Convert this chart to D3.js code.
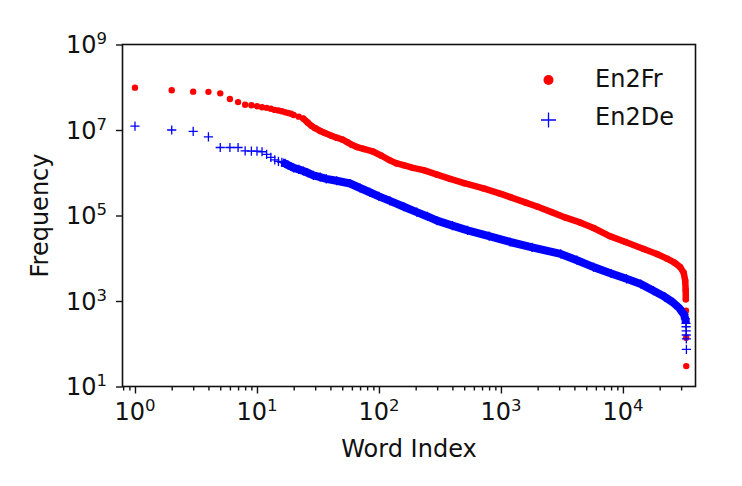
<!DOCTYPE html>
<html>
<head>
<meta charset="utf-8">
<script src="https://cdn.jsdelivr.net/npm/d3@7"></script>
<style>
  body { margin: 0; background: #fff; }
  svg text { font-family: "DejaVu Sans", sans-serif; fill: #111; }
</style>
</head>
<body>
<div id="chart"></div>
<script>
// word index / frequency (En2Fr, red dots)
const frIndex = [1, 2, 3, 4, 5, 6, 7, 8, 9, 10, 11, 12, 13, 14, 15, 16, 17, 18, 19, 20,
  22, 24, 26, 28, 30, 33, 36, 40, 45, 50, 55, 60, 66, 75, 90, 105, 123, 140, 159, 190,
  232, 300, 383, 500, 720, 1000, 1190, 1600, 2000, 2600, 3400, 4500, 5750, 7800, 10500,
  14800, 19000, 23000, 26500, 29500, 31500, 32400, 32700, 32800, 32900, 33000, 33050];
const frFreq = [9.8e7, 8.5e7, 7.9e7, 7.8e7, 7.2e7, 5.3e7, 4.5e7, 3.9e7, 3.8e7, 3.6e7,
  3.4e7, 3.3e7, 3.15e7, 2.95e7, 2.85e7, 2.75e7, 2.6e7, 2.5e7, 2.4e7, 2.25e7,
  2.05e7, 1.85e7, 1.5e7, 1.25e7, 1.1e7, 9.5e6, 8.5e6, 7.5e6, 6.6e6, 6.0e6, 5.2e6, 4.5e6,
  4.0e6, 3.6e6, 3.1e6, 2.5e6, 1.95e6, 1.65e6, 1.5e6, 1.3e6,
  1.15e6, 9.0e5, 7.2e5, 5.7e5, 4.3e5, 3.2e5, 2.7e5, 2.0e5, 1.6e5, 1.2e5, 8.9e4, 6.8e4,
  5.1e4, 3.3e4, 2.4e4, 1.65e4, 1.26e4, 9.8e3, 7.9e3, 6.2e3, 4.6e3, 3.0e3, 1.8e3, 1.1e3,
  590, 138, 30];

// En2De, blue pluses
const deIndex = [1, 2, 3, 4, 5, 6, 7, 8, 9, 10, 11, 12, 13, 14, 15, 16, 17, 18, 19, 20,
  22, 24, 26, 29, 33, 37, 45, 58, 70, 84, 100, 123, 160, 204, 250, 299, 400, 533, 800,
  1190, 1800, 3090, 4200, 5750, 8000, 10700, 14000, 17800, 22000, 25700, 29000, 31600,
  32500, 32900, 32950, 33000, 33050, 33100, 33150];
const deFreq = [1.23e7, 1.0e7, 9.3e6, 6.9e6, 3.9e6, 3.9e6, 3.9e6, 3.25e6, 3.2e6, 3.2e6,
  3.1e6, 2.7e6, 2.3e6, 2.0e6, 1.85e6, 1.75e6, 1.65e6, 1.5e6, 1.4e6, 1.3e6,
  1.2e6, 1.1e6, 1.0e6, 8.7e5, 7.9e5, 7.2e5, 6.5e5, 5.6e5, 4.4e5, 3.5e5, 2.8e5, 2.2e5,
  1.6e5, 1.2e5, 9.5e4, 7.6e4, 5.8e4, 4.5e4, 3.3e4,
  2.4e4, 1.8e4, 1.26e4, 9.0e3, 6.2e3, 4.4e3, 3.3e3, 2.5e3, 1.74e3, 1.25e3, 930, 680, 490,
  380, 300, 250, 200, 160, 130, 74];

const seriesNames = ["En2Fr", "En2De"];
const xTickPowers = [0, 1, 2, 3, 4];
const yTickPowers = [1, 3, 5, 7, 9];

const W = 742, H = 486;
const plotL = 122.5, plotR = 695.5, plotT = 44.5, plotB = 386.5;

const svg = d3.select("#chart").append("svg")
  .attr("width", W)
  .attr("height", H);

const x = d3.scaleLog().domain([0.79, 39360]).range([plotL, plotR]);
const y = d3.scaleLog().domain([10, 1e9]).range([plotB, plotT]);

// minor ticks on x (2..9 x 10^k) inside the domain
const minorX = [];
for (let p = -1; p <= 4; p++) {
  for (let m = 2; m <= 9; m++) {
    const v = m * Math.pow(10, p);
    if (v >= x.domain()[0] && v <= x.domain()[1]) minorX.push(v);
  }
}

const xMinor = svg.append("g")
  .attr("transform", `translate(0,${plotB})`)
  .call(d3.axisBottom(x).tickValues(minorX).tickSize(4).tickFormat(""));
const xMajor = svg.append("g")
  .attr("transform", `translate(0,${plotB})`)
  .call(d3.axisBottom(x).tickValues(xTickPowers.map(p => Math.pow(10, p))).tickSize(7).tickFormat(""));
const yMajor = svg.append("g")
  .attr("transform", `translate(${plotL},0)`)
  .call(d3.axisLeft(y).tickValues(yTickPowers.map(p => Math.pow(10, p))).tickSize(6.5).tickFormat(""));

[xMinor, xMajor, yMajor].forEach(g => {
  g.select(".domain").remove();
  g.selectAll(".tick line").attr("stroke", "#111").attr("stroke-width", 1.4);
});

// tick labels as 10^k
const xl = svg.append("g").selectAll("text")
  .data(xTickPowers)
  .enter()
  .append("text")
  .attr("x", p => x(Math.pow(10, p)))
  .attr("y", 420)
  .attr("text-anchor", "middle")
  .attr("font-size", 24);
xl.append("tspan").text("10");
xl.append("tspan").attr("dy", -9).attr("font-size", 16.5).text(p => p);

const yl = svg.append("g").selectAll("text")
  .data(yTickPowers)
  .enter()
  .append("text")
  .attr("x", 107)
  .attr("y", p => y(Math.pow(10, p)) + 8.6)
  .attr("text-anchor", "end")
  .attr("font-size", 24);
yl.append("tspan").text("10");
yl.append("tspan").attr("dy", -9).attr("font-size", 16.5).text(p => p);

// axis titles
svg.append("text")
  .attr("x", (plotL + plotR) / 2)
  .attr("y", 457)
  .attr("text-anchor", "middle")
  .attr("font-size", 24)
  .text("Word Index");

svg.append("text")
  .attr("transform", `translate(48,${(plotT + plotB) / 2}) rotate(-90)`)
  .attr("text-anchor", "middle")
  .attr("font-size", 24)
  .text("Frequency");

const plot = svg.append("g");

const fr = frIndex.map((d, i) => ({ idx: d, f: frFreq[i] }));
const de = deIndex.map((d, i) => ({ idx: d, f: deFreq[i] }));

const line = d3.line().x(d => x(d.idx)).y(d => y(d.f));

// dense part of each series, where the 30k markers merge into a band
plot.append("path")
  .datum(fr.filter(d => d.idx >= 24 && d.idx <= 32800))
  .attr("d", line)
  .attr("fill", "none")
  .attr("stroke", "#ff0000")
  .attr("stroke-width", 6.5)
  .attr("stroke-linejoin", "round")
  .attr("stroke-linecap", "round");

plot.selectAll("circle.fr")
  .data(fr)
  .enter()
  .append("circle")
  .attr("class", "fr")
  .attr("cx", d => x(d.idx))
  .attr("cy", d => y(d.f))
  .attr("r", 3.2)
  .attr("fill", "#ff0000");

plot.append("path")
  .datum(de.filter(d => d.idx >= 16 && d.idx <= 32900))
  .attr("d", line)
  .attr("fill", "none")
  .attr("stroke", "#0000ff")
  .attr("stroke-width", 8)
  .attr("stroke-linejoin", "round")
  .attr("stroke-linecap", "butt");

const plusPath = s => `M${-s},0H${s}M0,${-s}V${s}`;

plot.selectAll("path.de")
  .data(de)
  .enter()
  .append("path")
  .attr("class", "de")
  .attr("transform", d => `translate(${x(d.idx)},${y(d.f)})`)
  .attr("d", plusPath(4.6))
  .attr("fill", "none")
  .attr("stroke", "#0000ff")
  .attr("stroke-width", 1.3);

// frame
svg.append("rect")
  .attr("x", plotL)
  .attr("y", plotT)
  .attr("width", plotR - plotL)
  .attr("height", plotB - plotT)
  .attr("fill", "none")
  .attr("stroke", "#111")
  .attr("stroke-width", 1.6);

// legend
const legend = svg.append("g");
legend.append("circle")
  .attr("cx", 548.5).attr("cy", 80)
  .attr("r", 5)
  .attr("fill", "#ff0000");
legend.append("path")
  .attr("transform", "translate(548.5,120)")
  .attr("d", plusPath(7.5))
  .attr("stroke", "#0000ff")
  .attr("stroke-width", 1.3);
legend.selectAll("text")
  .data(seriesNames)
  .enter()
  .append("text")
  .attr("x", 595)
  .attr("y", (d, i) => 86.7 + i * 38.6)
  .attr("font-size", 24)
  .text(d => d);
</script>
</body>
</html>
